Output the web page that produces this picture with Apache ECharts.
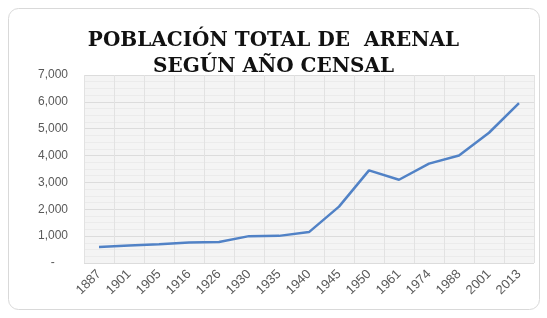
<!DOCTYPE html>
<html><head><meta charset="utf-8">
<script src="https://cdn.jsdelivr.net/npm/echarts@6/dist/echarts.min.js"></script>
<style>html,body{margin:0;padding:0;background:#fff;}#c{width:547px;height:318px;}</style>
</head><body><div id="c"></div>
<script>
const titleLines = ['POBLACIÓN TOTAL DE  ARENAL', 'SEGÚN AÑO CENSAL'];
const years = ['1887','1901','1905','1916','1926','1930','1935','1940','1945','1950','1961','1974','1988','2001','2013'];
const population = [600, 650, 700, 760, 780, 1000, 1010, 1150, 2100, 3450, 3100, 3700, 4000, 4850, 5950];
const yTicks = {min: 0, max: 7000, interval: 1000};

const chart = echarts.init(document.getElementById('c'));
chart.setOption({
  animation: false,
  backgroundColor: '#fff',
  graphic: [{type:'rect', shape:{x:8.5,y:8.5,width:531,height:301,r:10}, style:{fill:'none',stroke:'#d9d9d9',lineWidth:1}, z:-1}],
  title: {
    text: titleLines.join('\n'), left: 'center', top: 23, padding: [5, 15, 5, 0],
    textStyle: {fontFamily: 'DejaVu Serif', fontWeight: 'bold', fontSize: 20, color: '#111', lineHeight: 26}
  },
  grid: {left: 84, right: 13, top: 75, bottom: 55, show: true, backgroundColor: '#f4f4f4', borderWidth: 0},
  xAxis: {
    type: 'category', data: years, boundaryGap: true,
    axisLine: {show: false}, axisTick: {show: false},
    splitLine: {show: true, interval: 0, lineStyle: {color: '#e2e2e2', width: 1}},
    axisLabel: {rotate: 45, color: '#595959', fontSize: 13, fontFamily: 'Liberation Sans', margin: 9, interval: 0}
  },
  yAxis: {
    type: 'value', min: yTicks.min, max: yTicks.max, interval: yTicks.interval,
    axisLine: {show: false}, axisTick: {show: false},
    splitLine: {lineStyle: {color: '#dcdcdc', width: 1}},
    minorTick: {show: false, splitNumber: 4},
    minorSplitLine: {show: true, lineStyle: {color: '#ebebeb', width: 1}},
    axisLabel: {color: '#595959', fontSize: 12, fontFamily: 'Liberation Sans', margin: 16,
      formatter: v => v === 0 ? '-    ' : v.toLocaleString('en-US')}
  },
  series: [{
    type: 'line', data: population, symbol: 'none',
    lineStyle: {color: '#5182c6', width: 2.5}
  }]
});
</script></body></html>
